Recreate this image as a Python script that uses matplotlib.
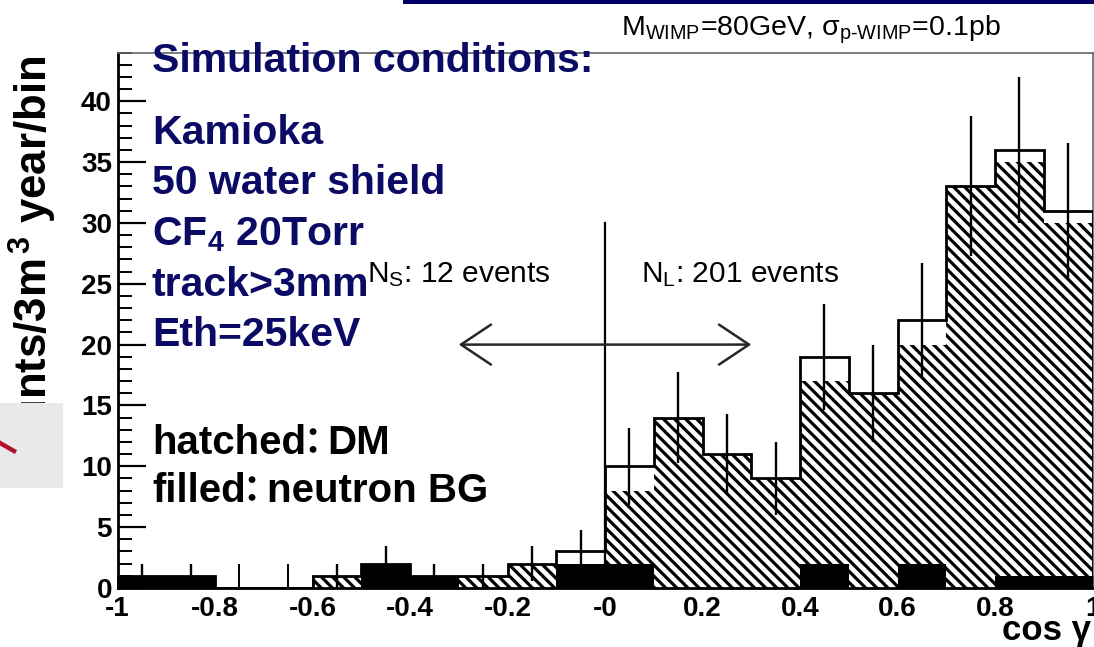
import numpy as np
import matplotlib
matplotlib.use("Agg")
import matplotlib.pyplot as plt
from matplotlib.patches import Rectangle
from matplotlib.lines import Line2D
from matplotlib.ticker import FixedLocator

plt.rcParams["font.family"] = ["Liberation Sans", "DejaVu Sans"]
plt.rcParams["mathtext.fontset"] = "custom"
plt.rcParams["mathtext.rm"] = "Liberation Sans"
plt.rcParams["mathtext.it"] = "Liberation Sans:italic"
plt.rcParams["mathtext.bf"] = "Liberation Sans:bold"
plt.rcParams["hatch.linewidth"] = 2.3

# ---- data: cos(gamma) distribution, 20 bins over [-1, 1] ----
bin_lo, bin_hi, n_bins = -1.0, 1.0, 20
dm_counts = [0, 0, 0, 0, 1, 0, 0, 1, 2, 1, 8, 14, 11, 9, 17, 16, 20, 33, 35, 30]
bg_counts = [1, 1, 0, 0, 0, 2, 1, 0, 0, 2, 2, 0, 0, 0, 2, 0, 2, 0, 1, 1]

x_ticks = [-1.0, -0.8, -0.6, -0.4, -0.2, 0.0, 0.2, 0.4, 0.6, 0.8, 1.0]
x_tick_labels = ["-1", "-0.8", "-0.6", "-0.4", "-0.2", "-0", "0.2", "0.4", "0.6", "0.8", "1"]
y_ticks = [0, 5, 10, 15, 20, 25, 30, 35, 40]
y_minor_step = 1
y_max = 44

title = r"M$_{\rm WIMP}$=80GeV, σ$_{\text{p-WIMP}}$=0.1pb"
y_label = r"Counts/3m$^{\,\mathbf{3}}$ year/bin"
x_label = "cos γ"
conditions_head = "Simulation conditions:"
conditions = ["Kamioka", "50 water shield", r"CF$_{\mathbf{4}}$ 20Torr", "track>3mm", "Eth=25keV"]
legend_lines = [("hatched", "DM"), ("filled", "neutron BG")]

# separation at cos(gamma)=0 and the double arrow around it
divider_x, divider_top = 0.0, 30
arrow_y, arrow_half = 20, 0.3

NAVY = "#0b0b66"
W, H = 1094, 647


def fx(px):
    return px / W


def fy(py):
    return (H - py) / H


fig = plt.figure(figsize=(W / 100, H / 100), dpi=100)
ax = fig.add_axes([fx(117.5), fy(588), 975 / W, 535.5 / H])

edges = np.linspace(bin_lo, bin_hi, n_bins + 1)
centers = 0.5 * (edges[:-1] + edges[1:])
dm = np.array(dm_counts, dtype=float)
bg = np.array(bg_counts, dtype=float)
total = dm + bg

# DM (hatched), neutron background (filled), and total with sqrt(N) errors
ax.stairs(dm, edges, fill=True, facecolor="white", edgecolor="black",
          hatch="\\\\\\", linewidth=0, zorder=2)
ax.stairs(bg, edges, fill=True, facecolor="black", edgecolor="black",
          linewidth=0, zorder=3)
ax.stairs(total, edges, color="black", linewidth=2.0, zorder=4)
has = total > 0
ax.errorbar(centers[has], total[has], yerr=np.sqrt(total[has]), fmt="none",
            ecolor="black", elinewidth=1.7, capsize=0, zorder=5)

ax.plot([divider_x, divider_x], [0, divider_top], color="black", lw=1.6, zorder=5)
ax.annotate("", xy=(-arrow_half, arrow_y), xytext=(arrow_half, arrow_y),
            arrowprops=dict(arrowstyle="<->,head_length=0.6,head_width=0.4",
                            color="#262626", lw=1.8, mutation_scale=36,
                            shrinkA=0, shrinkB=0), zorder=5)

n_short = int(total[centers < divider_x].sum())
n_long = int(total[centers > divider_x].sum())

ax.set_xlim(bin_lo, bin_hi)
ax.set_ylim(0, y_max)
ax.set_axisbelow(True)
ax.set_xticks(x_ticks, x_tick_labels)
ax.xaxis.set_minor_locator(FixedLocator(centers))
ax.set_yticks(y_ticks)
ax.yaxis.set_minor_locator(FixedLocator(np.arange(0, y_max + 1, y_minor_step)))
ax.tick_params(axis="x", which="major", direction="in", length=9, width=1.4,
               top=False, pad=6, labelsize=20)
ax.tick_params(axis="x", which="minor", direction="in", length=17, width=1.4,
               top=False)
ax.tick_params(axis="y", which="major", direction="in", length=20, width=1.6,
               right=False, pad=4, labelsize=20)
ax.tick_params(axis="y", which="minor", direction="in", length=10, width=1.4,
               right=False)
for lbl in ax.get_xticklabels() + ax.get_yticklabels():
    lbl.set_fontweight("bold")

for side in ("left", "bottom"):
    ax.spines[side].set_linewidth(2.0)
    ax.spines[side].set_color("black")
for side in ("top", "right"):
    ax.spines[side].set_linewidth(1.2)
    ax.spines[side].set_color("#666666")

ax.set_ylabel(y_label, loc="top", fontsize=31.5, fontweight="bold")
ax.yaxis.label.set_verticalalignment("baseline")
ax.yaxis.set_label_coords((48 - 117.5) / 975, (588 - 56) / 535.5)

fig.text(fx(1091), fy(640), x_label, ha="right", va="baseline",
         fontsize=25, fontweight="bold")
fig.text(fx(811), fy(35), title, ha="center", va="baseline", fontsize=20.5)

fig.text(fx(367), fy(282), r"N$_{\rm S}$: %d events" % n_short,
         ha="left", va="baseline", fontsize=21.5)
fig.text(fx(641), fy(282), r"N$_{\rm L}$: %d events" % n_long,
         ha="left", va="baseline", fontsize=21.5)

# slide annotations
fig.add_artist(Rectangle((fx(403), fy(4)), 1 - fx(403), 4 / H,
                         transform=fig.transFigure, color="#000066", lw=0, zorder=10))
fig.text(fx(152), fy(72), conditions_head, ha="left", va="baseline",
         fontsize=29.5, fontweight="bold", color=NAVY, zorder=11)
for i, line in enumerate(conditions):
    fig.text(fx(152), fy(144 + 50.5 * i), line, ha="left", va="baseline",
             fontsize=29.5, fontweight="bold", color=NAVY, zorder=11)

renderer = fig.canvas.get_renderer()
for i, (word, desc) in enumerate(legend_lines):
    base = fy(454 + 48 * i)
    t = fig.text(fx(152), base, word, ha="left", va="baseline",
                 fontsize=29, fontweight="bold", color="black", zorder=11)
    x_end = t.get_window_extent(renderer).x1
    fig.text(fx(x_end - 12), base, "：", ha="left", va="baseline",
             fontsize=26, fontweight="bold", color="black", zorder=11,
             family=["Noto Sans CJK JP", "DejaVu Sans"])
    fig.text(fx(x_end + 21), base, desc, ha="left", va="baseline",
             fontsize=29, fontweight="bold", color="black", zorder=11)

fig.add_artist(Rectangle((0, fy(488)), fx(63), 85 / H, transform=fig.transFigure,
                         color="#e9e9e9", lw=0, zorder=10))
fig.add_artist(Line2D([0, fx(14)], [fy(443), fy(451)], transform=fig.transFigure,
                      color="#b3102c", lw=3.2, zorder=11))

fig.savefig("out.png", dpi=100)
